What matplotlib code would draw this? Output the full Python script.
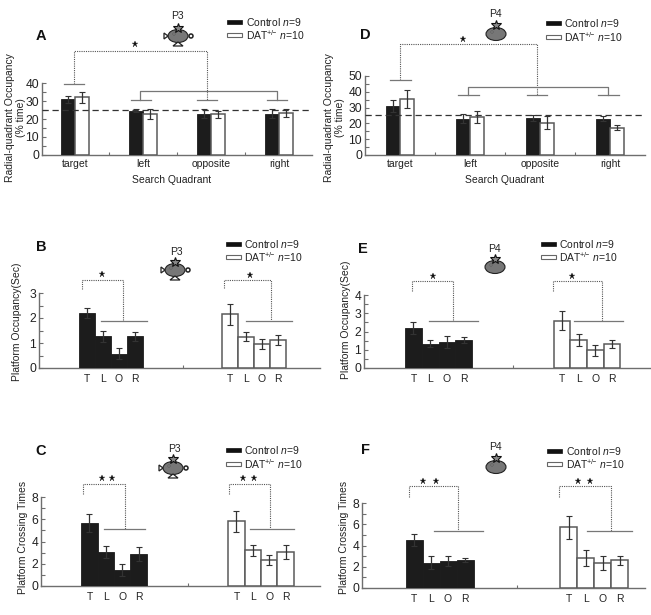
import matplotlib
matplotlib.use("Agg")
import matplotlib.pyplot as plt
from matplotlib.patches import Ellipse, Polygon, Circle, Rectangle

plt.rcParams['font.family'] = ['Liberation Sans', 'DejaVu Sans']
plt.rcParams['mathtext.fontset'] = 'custom'
plt.rcParams['mathtext.rm'] = 'Liberation Sans'
plt.rcParams['mathtext.it'] = 'Liberation Sans:italic'

W, H = 651, 615
FS = 7.5
GRAY = '#6e6e6e'
TXT = '#222222'

quadrants = ['target', 'left', 'opposite', 'right']
short_quadrants = ['T', 'L', 'O', 'R']
legend_control = 'Control $\\mathit{n}$=9'
legend_dat = 'DAT$^{+\\!/\\!\\!-}$ $\\mathit{n}$=10'

a_control = [31, 24.7, 23, 23]
a_control_err = [2, 1, 2.5, 2.5]
a_dat = [32, 23, 22.5, 23.3]
a_dat_err = [3, 2.8, 1.8, 2]

d_control = [31, 23, 23.3, 23]
d_control_err = [3.5, 2.8, 2, 1.5]
d_dat = [35.5, 24, 20.5, 17.3]
d_dat_err = [5.8, 4, 4.2, 1.5]

b_control = [2.2, 1.27, 0.57, 1.27]
b_control_err = [0.2, 0.22, 0.22, 0.18]
b_dat = [2.15, 1.25, 0.98, 1.13]
b_dat_err = [0.42, 0.18, 0.2, 0.2]

e_control = [2.2, 1.33, 1.42, 1.52]
e_control_err = [0.33, 0.18, 0.33, 0.17]
e_dat = [2.6, 1.52, 0.98, 1.32]
e_dat_err = [0.5, 0.33, 0.3, 0.2]

c_control = [5.65, 3.05, 1.45, 2.9]
c_control_err = [0.8, 0.55, 0.55, 0.65]
c_dat = [5.8, 3.2, 2.3, 3.05]
c_dat_err = [0.95, 0.5, 0.45, 0.6]

f_control = [4.55, 2.4, 2.55, 2.65]
f_control_err = [0.55, 0.6, 0.5, 0.2]
f_dat = [5.7, 2.8, 2.35, 2.6]
f_dat_err = [1.05, 0.75, 0.65, 0.4]

fig = plt.figure(figsize=(W / 100, H / 100), dpi=100, facecolor='white')


def make_axes(left, right, y0, ytop, ymax, major):
    ax = fig.add_axes([left / W, 1 - y0 / H, (right - left) / W, (y0 - ytop) / H])
    ax.set_ylim(0, ymax)
    ax.patch.set_alpha(0)
    for s in ('top', 'right'):
        ax.spines[s].set_visible(False)
    for s in ('left', 'bottom'):
        ax.spines[s].set_color(GRAY)
        ax.spines[s].set_linewidth(1.0)
    ax.set_yticks(major)
    ax.set_yticks([(p + q) / 2 for p, q in zip(major[:-1], major[1:])], minor=True)
    ax.tick_params(axis='y', which='both', direction='in', length=3, width=0.8, color=GRAY,
                   labelsize=FS + 1.2, pad=2, labelcolor=TXT)
    ax.tick_params(axis='x', which='major', length=0, labelsize=FS, labelcolor=TXT, pad=3)
    ax.tick_params(axis='x', which='minor', direction='in', length=2, width=0.8, color=GRAY)
    return ax


def draw_bars(ax, xs, vals, errs, dark, w, z=3):
    ax.bar(xs, vals, width=w, color='#1c1c1c' if dark else 'white',
           edgecolor='#1c1c1c' if dark else '#5a5a5a', linewidth=0.6 if dark else 1.1, zorder=z)
    ax.errorbar(xs, vals, yerr=errs, fmt='none', ecolor='#333333', elinewidth=0.9,
                capsize=2, capthick=0.8, zorder=z + 1)


def grouped(left, right, y0, ytop, ymax, major, centers_px, ctrl, ctrl_e, dat, dat_e):
    ax = make_axes(left, right, y0, ytop, ymax, major)
    unit = centers_px[1] - centers_px[0]
    ax.set_xlim((left - centers_px[0]) / unit, (right - centers_px[0]) / unit)
    w = 0.205
    pos = list(range(len(quadrants)))
    draw_bars(ax, [p - w / 2 for p in pos], ctrl, ctrl_e, True, w)
    draw_bars(ax, [p + w / 2 for p in pos], dat, dat_e, False, w)
    ax.axhline(25, color='#333333', lw=0.9, ls=(0, (5, 3)), zorder=6)
    ax.set_xticks(pos, quadrants)
    ax.set_xticks([p + 0.5 for p in pos[:-1]], minor=True)
    return ax


def separated(left, right, y0, ytop, ymax, major, first, second, w, ctrl, ctrl_e, dat, dat_e):
    ax = make_axes(left, right, y0, ytop, ymax, major)
    ax.set_xlim((left - first) / w, (right - first) / w)
    gap = (second - first) / w
    n = len(short_quadrants)
    p1 = list(range(n))
    p2 = [i + gap for i in range(n)]
    draw_bars(ax, p1, ctrl, ctrl_e, True, 1.0)
    draw_bars(ax, p2, dat, dat_e, False, 1.0)
    ax.set_xticks(p1 + p2, short_quadrants + short_quadrants)
    ax.set_xticks([(p1[-1] + p2[0]) / 2], minor=True)
    ax.tick_params(axis='x', which='major', pad=4)
    return ax


grouped(42, 312, 155, 83, 40, [0, 10, 20, 30, 40], [75, 143], a_control, a_control_err, a_dat, a_dat_err)
grouped(365, 645, 155, 76, 50, [0, 10, 20, 30, 40, 50], [400, 470], d_control, d_control_err, d_dat, d_dat_err)
separated(39, 320, 368, 293, 3, [0, 1, 2, 3], 87, 230, 16, b_control, b_control_err, b_dat, b_dat_err)
separated(364, 650, 368, 295, 4, [0, 1, 2, 3, 4], 413.5, 562, 16.7, e_control, e_control_err, e_dat, e_dat_err)
separated(41, 320, 586, 497, 8, [0, 2, 4, 6, 8], 89.5, 236.5, 16.4, c_control, c_control_err, c_dat, c_dat_err)
separated(362, 645, 588, 503, 8, [0, 2, 4, 6, 8], 414, 568.5, 17, f_control, f_control_err, f_dat, f_dat_err)

# Overlay working in image pixels for the annotations
ov = fig.add_axes([0, 0, 1, 1], zorder=10)
ov.set_xlim(0, W)
ov.set_ylim(H, 0)
ov.axis('off')


def text(x, y, s, **kw):
    kw.setdefault('fontsize', FS)
    kw.setdefault('color', TXT)
    ov.text(x, y, s, ha=kw.pop('ha', 'center'), va=kw.pop('va', 'center'), **kw)


def dotted(xs, ys):
    ov.plot(xs, ys, color='#555555', lw=0.8, ls=(0, (1, 1)))


def solid(xs, ys):
    ov.plot(xs, ys, color='#777777', lw=0.9)


def star(x, y, size=5):
    ov.plot([x], [y], marker='*', ms=size, color='#111111', mec='#111111', mew=0.2, ls='none')


def bracket(x0, x1, ytop, yleft, yright, sx0, sx1, stars):
    dotted([x0, x0, x1, x1], [yleft, ytop, ytop, yright])
    solid([sx0, sx1], [yright, yright])
    for sx, sy in stars:
        star(sx, sy)


def legend(hx, y1, y2, tx):
    ov.add_patch(Rectangle((hx, y1 - 2), 15, 4, fc='#111111', ec='#111111', lw=0.5))
    ov.add_patch(Rectangle((hx, y2 - 2), 15, 4, fc='white', ec='#666666', lw=0.8))
    text(tx, y1, legend_control, ha='left')
    text(tx, y2, legend_dat, ha='left')


def icon(label, lx, ly, sy, ex, ey, full):
    text(lx, ly, label, fontsize=FS)
    ov.add_patch(Ellipse((ex, ey), 20, 13, fc='#777777', ec='#222222', lw=0.8))
    ov.add_patch(Circle((ex - 4, ey - 2), 1, fc='white', ec='#222222', lw=0.4))
    ov.plot([ex], [sy], marker='*', ms=7.5, mfc='#888888', mec='#111111', mew=0.8, ls='none')
    if full:
        ov.add_patch(Polygon([(ex - 10, ey), (ex - 14, ey - 3), (ex - 14, ey + 3)], fc='white', ec='#222222', lw=0.9))
        ov.add_patch(Circle((ex + 13, ey), 2, fc='white', ec='#222222', lw=1.1))
        ov.add_patch(Polygon([(ex, ey + 6), (ex - 5, ey + 10), (ex + 5, ey + 10)], fc='white', ec='#222222', lw=0.9))


# Panel letters
for s, x, y in [('A', 41, 36), ('D', 365, 35), ('B', 41, 247), ('E', 363, 249), ('C', 41, 451), ('F', 365, 450)]:
    text(x, y, s, fontsize=10.5, fontweight='bold', color='#111111')

# Axis titles
text(172, 180, 'Search Quadrant')
text(505, 180, 'Search Quadrant')
text(10, 118, 'Radial-quadrant Occupancy', rotation=90)
text(21, 118, '(% time)', rotation=90)
text(329, 118, 'Radial-quadrant Occupancy', rotation=90)
text(340, 118, '(% time)', rotation=90)
text(17, 322, 'Platform Occupancy(Sec)', rotation=90)
text(346, 320, 'Platform Occupancy(Sec)', rotation=90)
text(23, 537, 'Platform Crossing Times', rotation=90)
text(344, 537, 'Platform Crossing Times', rotation=90)

# Legends
legend(227, 22, 35, 246)
legend(546, 23, 37, 564)
legend(226, 244, 257, 244)
legend(541, 244, 257, 559)
legend(226, 450, 464, 244)
legend(547, 451, 464, 566)

# Position icons
icon('P3', 177, 16, 28, 178, 36, True)
icon('P3', 176, 252, 262, 175, 270, True)
icon('P3', 174, 449, 459, 173, 468, True)
icon('P4', 495, 14, 25, 496, 34, False)
icon('P4', 494, 249, 259, 495, 267, False)
icon('P4', 495, 447, 458, 496, 467, False)

# Panel A brackets
dotted([74, 74, 207, 207], [84, 51, 51, 100])
solid([64, 84], [84, 84])
solid([140, 140, 277, 277], [100, 91, 91, 100])
for a, b in [(131, 151), (197, 217), (267, 287)]:
    solid([a, b], [100, 100])
star(135, 44)

# Panel D brackets
dotted([400, 400, 537, 537], [80, 44, 44, 95])
solid([390, 411], [80, 80])
solid([468, 468, 608, 608], [95, 87, 87, 95])
for a, b in [(458, 479), (527, 547), (598, 619)]:
    solid([a, b], [95, 95])
star(463, 39)

# Panels B, E, C, F brackets
bracket(82, 123, 280, 289, 321, 101, 147, [(102, 274)])
bracket(224, 271, 280, 288, 321, 246, 292, [(250, 275)])
bracket(412, 453, 281, 291, 321, 429, 478, [(433, 276)])
bracket(553, 602, 281, 291, 321, 574, 623, [(572, 276)])
bracket(83, 125, 484, 494, 529, 104, 145, [(102, 478), (112, 478)])
bracket(229, 270, 484, 494, 529, 250, 294, [(243, 478), (254, 478)])
bracket(409, 458, 486, 497, 531, 434, 483, [(423, 481), (436, 481)])
bracket(559, 611, 486, 497, 531, 587, 632, [(578, 481), (590, 481)])

fig.savefig('out.png', dpi=100, facecolor='white')
